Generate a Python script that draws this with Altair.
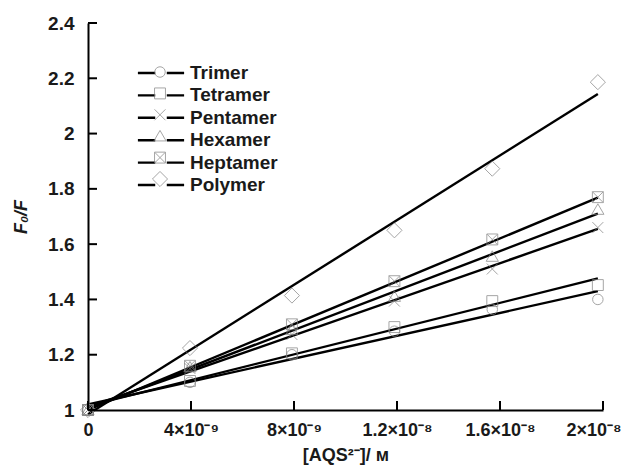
import altair as alt
import pandas as pd

series = ["Trimer", "Tetramer", "Pentamer", "Hexamer", "Heptamer", "Polymer"]
conc = [0, 3.96e-9, 7.92e-9, 1.19e-8, 1.57e-8, 1.98e-8]
trimer = [1.0, 1.10, 1.20, 1.285, 1.364, 1.40]
tetramer = [1.0, 1.105, 1.205, 1.30, 1.394, 1.452]
pentamer = [1.0, 1.15, 1.273, 1.394, 1.51, 1.66]
hexamer = [1.0, 1.155, 1.29, 1.41, 1.555, 1.725]
heptamer = [1.0, 1.16, 1.31, 1.466, 1.617, 1.77]
polymer = [1.0, 1.224, 1.414, 1.65, 1.873, 2.186]
fit_start = [1.02, 1.015, 1.01, 1.005, 1.0, 0.985]
fit_end = [1.43, 1.476, 1.655, 1.71, 1.768, 2.143]
fit_x = [0, 1.98e-8]

x_ticks = [0, 4e-9, 8e-9, 1.2e-8, 1.6e-8, 2e-8]
x_tick_labels = ["0", "4×10⁻⁹", "8×10⁻⁹", "1.2×10⁻⁸", "1.6×10⁻⁸", "2×10⁻⁸"]
y_ticks = [1, 1.2, 1.4, 1.6, 1.8, 2, 2.2, 2.4]

# marker paths (unit: sqrt(size)/2 px)
shapes = [
    "M0.5,0A0.5,0.5,0,1,1,-0.5,0A0.5,0.5,0,1,1,0.5,0Z",
    "M-0.52,-0.52H0.52V0.52H-0.52Z",
    "M-0.52,-0.52L0.52,0.52M0.52,-0.52L-0.52,0.52",
    "M0,-0.55L0.58,0.45L-0.58,0.45Z",
    "M-0.52,-0.52H0.52V0.52H-0.52ZM-0.52,-0.52L0.52,0.52M0.52,-0.52L-0.52,0.52",
    "M0,-0.72L0.72,0L0,0.72L-0.72,0Z",
]
SYM = 441

vals = [trimer, tetramer, pentamer, hexamer, heptamer, polymer]
pts = pd.DataFrame(
    [{"series": s, "x": cx, "y": v} for s, ys in zip(series, vals) for cx, v in zip(conc, ys)]
)
lines = pd.DataFrame(
    [{"name": s, "x": fx, "y": fy} for s, a, b in zip(series, fit_start, fit_end) for fx, fy in zip(fit_x, [a, b])]
)
ytick_df = pd.DataFrame({"y": y_ticks})
xtick_df = pd.DataFrame({"x": x_ticks})

FONT = "Liberation Sans"
FS = 19
label_expr = "[" + ",".join("'" + t + "'" for t in x_tick_labels) + "][round(datum.value/4e-9)]"

xscale = alt.Scale(domain=[0, 2e-8], nice=False, zero=False)
yscale = alt.Scale(domain=[1, 2.4], nice=False, zero=False)

xaxis = alt.Axis(values=x_ticks, labelExpr=label_expr, title="[AQS²⁻]/ ᴍ",
                 tickSize=0, labelPadding=11, domainWidth=2, domainColor="black",
                 labelFont=FONT, labelFontSize=18, labelFontWeight="bold", labelColor="#1a1a1a",
                 labelAlign={"condition": {"test": "datum.value > 1.99e-8", "value": "right"}, "value": "center"},
                 labelOffset={"condition": {"test": "datum.value > 1.99e-8", "value": 18}, "value": 0},
                 titleFont=FONT, titleFontSize=18, titleFontWeight="bold", titleColor="#1a1a1a",
                 titlePadding=7, grid=False, labelFlush=False)
yaxis = alt.Axis(values=y_ticks, format="~g", title="F₀/F",
                 tickSize=0, labelPadding=14, domainWidth=2, domainColor="black",
                 labelFont=FONT, labelFontSize=FS, labelFontWeight="bold", labelColor="#1a1a1a",
                 titleFont=FONT, titleFontSize=18, titleFontWeight="bold", titleColor="#1a1a1a",
                 titleFontStyle="italic", titlePadding=17, grid=False)

W, H = 515, 387
LX, LY = 61, 38

line_layer = alt.Chart(lines).mark_line(strokeWidth=2.4, clip=False).encode(
    x=alt.X("x:Q", scale=xscale, axis=xaxis),
    y=alt.Y("y:Q", scale=yscale, axis=yaxis),
    detail="name:N",
    color=alt.Color("name:N", sort=series, scale=alt.Scale(range=["black"] * 6),
                    legend=alt.Legend(orient="none", legendX=LX, legendY=LY, title=None,
                                      symbolType="M-2.2,0H-0.55M0.55,0H2.2", symbolSize=SYM,
                                      symbolStrokeWidth=2.4, symbolStrokeColor="black",
                                      labelFontSize=FS, labelFont=FONT, labelFontWeight="bold",
                                      labelColor="#1a1a1a", rowPadding=0.4, padding=0, labelOffset=17)),
)

point_layer = alt.Chart(pts).mark_point(filled=False, size=SYM, strokeWidth=1, color="#808080", clip=False).encode(
    x=alt.X("x:Q", scale=xscale, axis=xaxis),
    y=alt.Y("y:Q", scale=yscale, axis=yaxis),
    shape=alt.Shape("series:N", scale=alt.Scale(domain=series, range=shapes),
                    legend=alt.Legend(orient="none", legendX=LX, legendY=LY, title=None,
                                      symbolSize=SYM, symbolStrokeWidth=1, symbolStrokeColor="#808080",
                                      symbolFillColor="white", labelFontSize=FS, labelFont=FONT,
                                      labelFontWeight="bold", labelExpr="''", rowPadding=0.4,
                                      padding=0, labelOffset=17)),
)

ytick_layer = alt.Chart(ytick_df).mark_rule(color="black", strokeWidth=2).encode(
    y=alt.Y("y:Q", scale=yscale, axis=yaxis),
    x=alt.value(0), x2=alt.value(9),
)
xtick_layer = alt.Chart(xtick_df).mark_rule(color="black", strokeWidth=2).encode(
    x=alt.X("x:Q", scale=xscale, axis=xaxis),
    y=alt.value(H - 9), y2=alt.value(H),
)

chart = alt.layer(line_layer, point_layer, ytick_layer, xtick_layer).properties(
    width=W, height=H,
    padding={"left": 80, "top": 15, "right": 18, "bottom": 55},
    autosize=alt.AutoSizeParams(type="none"),
).configure(background="white").configure_view(stroke=None)

chart.save("out.html", embed_options={"renderer": "svg", "actions": False})
